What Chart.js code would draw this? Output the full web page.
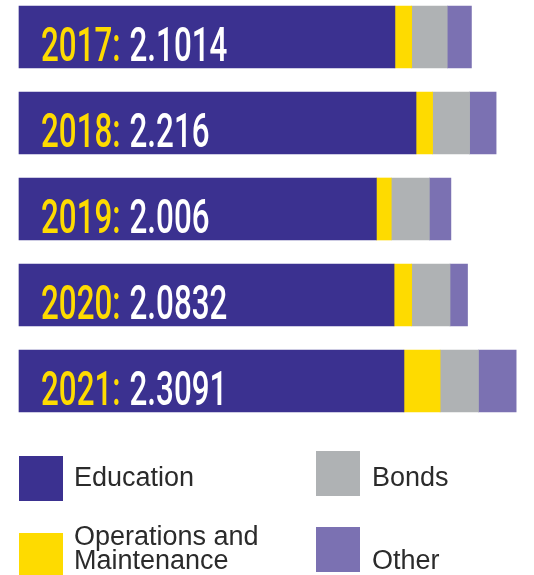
<!DOCTYPE html>
<html>
<head>
<meta charset="utf-8">
<script src="https://cdn.jsdelivr.net/npm/chart.js@4"></script>
<style>
    body { margin: 0; background: #fff; }
    canvas { display: block; }
</style>
</head>
<body>
<canvas id="FundChart" width="534" height="575"></canvas>
<script>
// Yearly totals, split by category (values in the same units as the totals)
const years = ['2017', '2018', '2019', '2020', '2021'];
const totals = ['2.1014', '2.216', '2.006', '2.0832', '2.3091'];

const education = [1.746, 1.844, 1.660, 1.742, 1.788];
const operations = [0.078, 0.077, 0.069, 0.082, 0.168];
const bonds = [0.165, 0.172, 0.177, 0.178, 0.178];
const other = [0.1124, 0.123, 0.100, 0.0812, 0.1751];

const series_names = ['Education', 'Operations and\nMaintenance', 'Bonds', 'Other'];
const series_colors = ['#3b3190', '#fedb00', '#afb2b4', '#7b71b2'];


function draw_bar_labels(chart){
    // Year in yellow, total in white, inside the left end of each bar
    const ctx = chart.ctx;
    const meta = chart.getDatasetMeta(0);
    meta.data.forEach((bar, i) => {
        ctx.save();
        ctx.translate(41, bar.y + 23.5);
        ctx.scale(0.64, 1);
        ctx.font = '500 49px Roboto';
        ctx.textBaseline = 'alphabetic';
        const year = years[i] + ':';
        ctx.fillStyle = '#fedb00';
        ctx.fillText(year, 0, 0);
        const w = ctx.measureText(year).width;
        ctx.fillStyle = '#ffffff';
        ctx.fillText(totals[i], w + 14, 0);
        ctx.restore();
    });
}


function draw_legend(chart){
    const ctx = chart.ctx;
    // two columns: Education / O&M on the left, Bonds / Other on the right
    const items = [
        {box_x: 19, box_y: 456, text_x: 74, base: 486},
        {box_x: 19, box_y: 533, text_x: 74, base: 545},
        {box_x: 316, box_y: 451, text_x: 372, base: 486},
        {box_x: 316, box_y: 527, text_x: 372, base: 569},
    ];
    ctx.save();
    ctx.font = '27px "Liberation Sans"';
    ctx.textBaseline = 'alphabetic';
    items.forEach((item, i) => {
        ctx.fillStyle = series_colors[i];
        ctx.fillRect(item.box_x, item.box_y, 44, 45);
        ctx.fillStyle = '#2b2b2b';
        const lines = series_names[i].split('\n');
        lines.forEach((line, j) => {
            ctx.fillText(line, item.text_x, item.base + j * 24);
        });
    });
    ctx.restore();
}


const label_plugin = {
    id: 'bar_labels',
    afterDatasetsDraw(chart){
        draw_bar_labels(chart);
    },
    afterDraw(chart){
        draw_legend(chart);
    }
};


function plot_fund_chart(){
    const ctx = document.getElementById('FundChart').getContext('2d');
    const values = [education, operations, bonds, other];

    const data = {
        labels: years,
        datasets: values.map((vals, i) => ({
            label: series_names[i].replace('\n', ' '),
            data: vals,
            backgroundColor: series_colors[i],
            borderWidth: 0,
            barThickness: 62,
            clip: false
        }))
    };

    const chart = new Chart(ctx, {
        type: 'bar',
        data: data,
        options: {
            indexAxis: 'y',
            responsive: false,
            animation: false,
            layout: {
                padding: {left: 19, right: 0, top: 37, bottom: 194}
            },
            scales: {
                x: {
                    stacked: true,
                    min: 0,
                    max: 2.392,
                    display: false
                },
                y: {
                    stacked: true,
                    offset: false,
                    display: false
                }
            },
            plugins: {
                legend: {display: false},
                tooltip: {enabled: false}
            }
        },
        plugins: [label_plugin]
    });
    return chart;
}

plot_fund_chart();
</script>
</body>
</html>
